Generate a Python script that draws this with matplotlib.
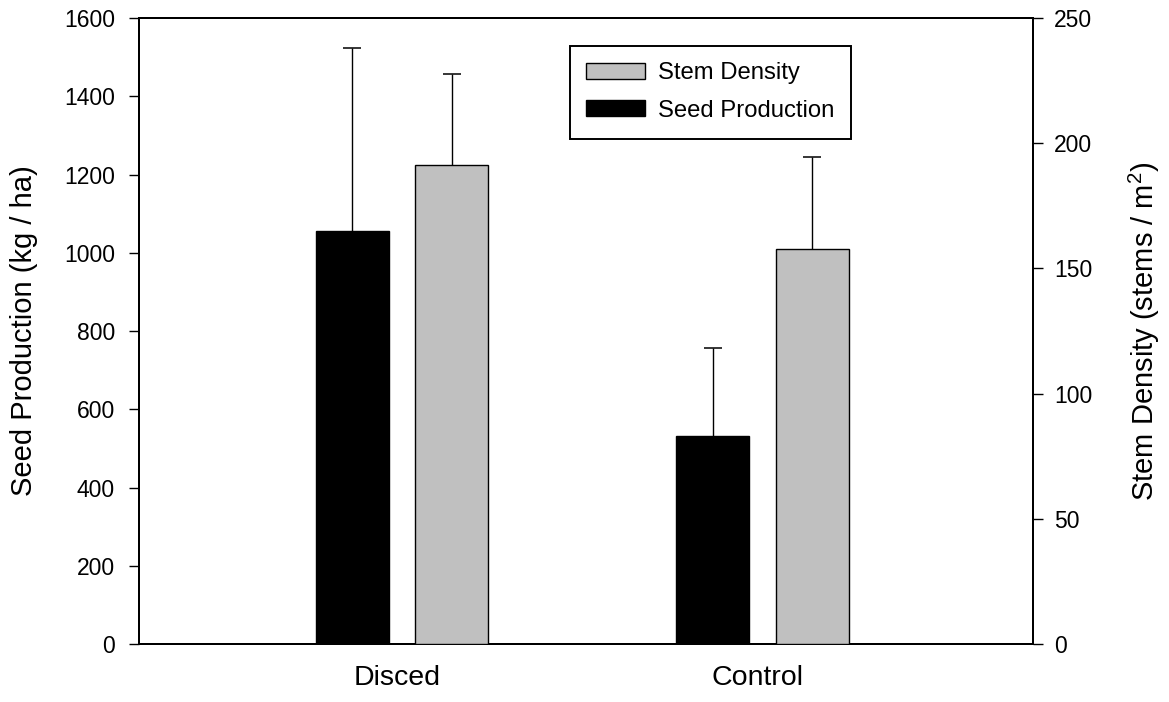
import matplotlib
matplotlib.use('Agg')
import matplotlib.pyplot as plt
import numpy as np

plt.rcParams['font.family'] = ['Liberation Sans', 'DejaVu Sans']
plt.rcParams['mathtext.fontset'] = 'custom'
plt.rcParams['mathtext.rm'] = 'Liberation Sans'
plt.rcParams['mathtext.it'] = 'Liberation Sans'

# data
treatments = ['Disced', 'Control']
seed_production = [1055, 532]      # kg / ha
seed_err = [468, 224]
stem_density = [191.3, 157.7]      # stems / m2
stem_err = [36.2, 36.9]

seed_ticks = [0, 200, 400, 600, 800, 1000, 1200, 1400, 1600]
stem_ticks = [0, 50, 100, 150, 200, 250]

x = np.arange(len(treatments))
bar_w = 0.2025

fig = plt.figure(figsize=(11.69, 7.02), dpi=100)
ax = fig.add_axes([0.1185, 0.0826, 0.7652, 0.8917])
ax2 = ax.twinx()

b1 = ax.bar(x - 0.124, seed_production, width=bar_w, color='black',
            edgecolor='black', linewidth=1.0, zorder=3)
eb1 = ax.errorbar(x - 0.124, seed_production, yerr=[np.zeros(2), seed_err],
                  fmt='none', ecolor='black', elinewidth=1.0, capsize=6.8,
                  capthick=1.1, zorder=2)
eb1[1][0].remove()   # only the upper cap

b2 = ax2.bar(x + 0.152, stem_density, width=bar_w, color='#c0c0c0',
             edgecolor='black', linewidth=1.0, zorder=3)
eb2 = ax2.errorbar(x + 0.152, stem_density, yerr=[np.zeros(2), stem_err],
                   fmt='none', ecolor='black', elinewidth=1.0, capsize=6.8,
                   capthick=1.1, zorder=2)
eb2[1][0].remove()

ax.set_xlim(-0.717, 1.764)
ax.set_ylim(0, 1600)
ax2.set_ylim(0, 250)
ax.set_yticks(seed_ticks)
ax2.set_yticks(stem_ticks)
ax.set_xticks(x)
ax.set_xticklabels(treatments, fontsize=20.5)

ax.tick_params(axis='x', length=0, pad=15)
ax.tick_params(axis='y', direction='out', length=7, width=1.0,
               labelsize=16.5, pad=10)
ax2.tick_params(axis='y', direction='out', length=7, width=1.0,
                labelsize=16.5, pad=8)

for a in (ax, ax2):
    for s in a.spines.values():
        s.set_linewidth(1.4)
        s.set_color('black')

ax.set_ylabel('Seed Production (kg / ha)', fontsize=21)
ax.yaxis.set_label_coords(-0.1124, 0.5)
ax2.set_ylabel(r'Stem Density (stems / m$^{2}$)', fontsize=21)
ax2.yaxis.set_label_coords(1.105, 0.5)

leg = ax2.legend([b2, b1], ['Stem Density', 'Seed Production'],
                 loc='upper left', bbox_to_anchor=(0.482, 0.956),
                 borderaxespad=0, fontsize=17.2, frameon=True, fancybox=False,
                 framealpha=1, edgecolor='black', handlelength=2.45,
                 handleheight=0.66, handletextpad=0.55, labelspacing=0.65,
                 borderpad=0.7)
leg.get_frame().set_linewidth(1.4)

fig.savefig('out.png', dpi=100)
